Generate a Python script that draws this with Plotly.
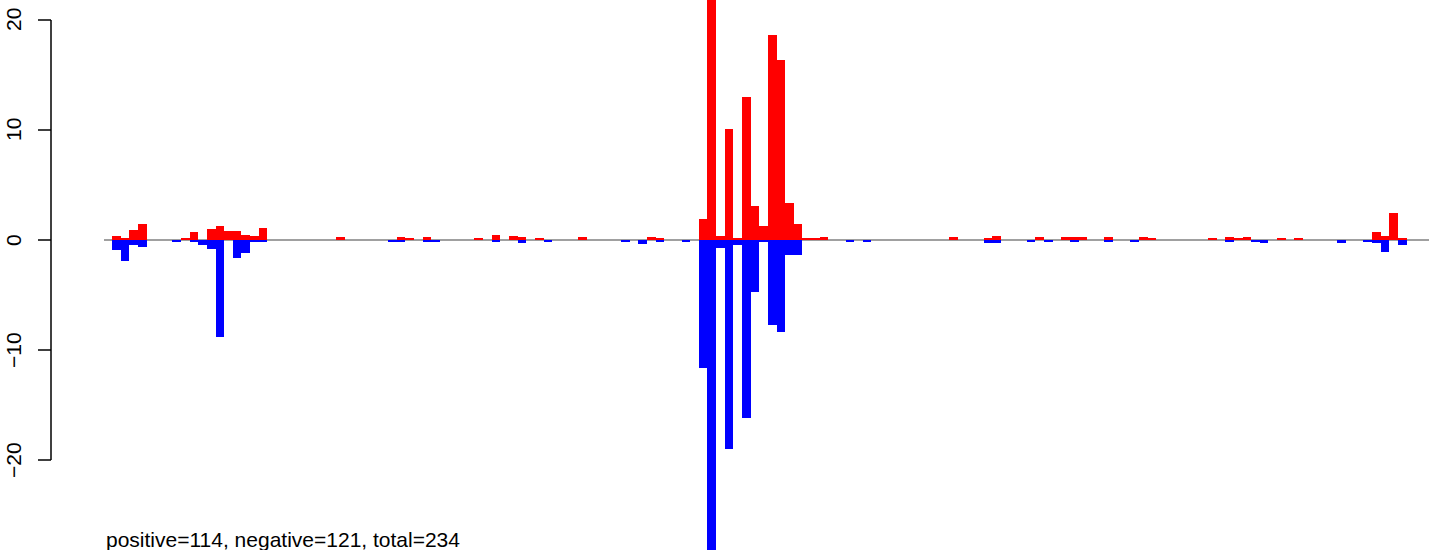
import plotly.graph_objects as go

# ---- data (bin index -> value) ----
n_bins = 150
pos_bin = [0, 1, 2, 3, 8, 9, 11, 12, 13, 14, 15, 16, 17,
           26, 33, 34, 36, 42, 44, 46, 47, 49, 54, 62, 63,
           68, 69, 70, 71, 72, 73, 74, 75, 76, 77, 78, 79, 80, 81, 82,
           97, 101, 102, 107, 110, 111, 112, 115, 119, 120, 127, 129, 130, 131,
           135, 137, 146, 147, 148, 149]
pos_val = [0.33, 0.21, 0.88, 1.42, 0.15, 0.70, 0.97, 1.24, 0.79, 0.79, 0.42, 0.33, 1.06,
           0.24, 0.25, 0.18, 0.25, 0.17, 0.42, 0.33, 0.24, 0.15, 0.25, 0.27, 0.18,
           1.90, 24.0, 0.35, 10.1, 0.20, 13.0, 3.05, 1.25, 18.6, 16.4, 3.35, 1.45, 0.15, 0.15, 0.24,
           0.25, 0.17, 0.35, 0.25, 0.25, 0.25, 0.25, 0.25, 0.24, 0.15, 0.17, 0.25, 0.17, 0.25,
           0.17, 0.17, 0.70, 0.33, 2.42, 0.15]

neg_bin = [0, 1, 2, 3, 7, 9, 10, 11, 12, 14, 15, 16, 17,
           32, 33, 36, 37, 44, 47, 50, 59, 61, 63, 66,
           68, 69, 70, 71, 72, 73, 74, 75, 76, 77, 78, 79,
           85, 87, 101, 102, 106, 108, 111, 115, 118, 129, 132, 133, 142, 145, 146, 147, 149]
neg_val = [-0.91, -1.90, -0.48, -0.64, -0.18, -0.18, -0.45, -0.82, -8.82, -1.64, -1.18, -0.18, -0.18,
           -0.20, -0.20, -0.20, -0.20, -0.20, -0.30, -0.20, -0.20, -0.40, -0.20, -0.20,
           -11.6, -30.0, -0.75, -19.0, -0.45, -16.2, -4.7, -0.18, -7.7, -8.4, -1.33, -1.33,
           -0.20, -0.20, -0.30, -0.30, -0.20, -0.20, -0.20, -0.20, -0.18, -0.20, -0.20, -0.28,
           -0.27, -0.18, -0.27, -1.09, -0.45]

tick_vals = [-20, -10, 0, 10, 20]
tick_text = ["\u221220", "\u221210", "0", "10", "20"]
caption = "positive=114, negative=121, total=234"

W, H = 1429, 550
FONT = "Liberation Sans, Arial, Helvetica, sans-serif"

fig = go.Figure()
fig.add_trace(go.Bar(x=pos_bin, y=pos_val, width=1.0, marker=dict(color="#FF0000", line=dict(width=0)),
                     showlegend=False, hoverinfo="x+y"))
fig.add_trace(go.Bar(x=neg_bin, y=neg_val, width=1.0, marker=dict(color="#0000FF", line=dict(width=0)),
                     showlegend=False, hoverinfo="x+y"))

# zero reference line
fig.add_shape(type="line", xref="paper", yref="y", x0=104 / W, x1=1, y0=0, y1=0,
              line=dict(color="#A0A0A0", width=2), layer="below")

# R-style y axis
ax_x = 51 / W
tick_x = 38 / W
fig.add_shape(type="line", xref="paper", yref="y", x0=ax_x, x1=ax_x,
              y0=min(tick_vals), y1=max(tick_vals), line=dict(color="black", width=1.5))
for v, t in zip(tick_vals, tick_text):
    fig.add_shape(type="line", xref="paper", yref="y", x0=tick_x, x1=ax_x, y0=v, y1=v,
                  line=dict(color="black", width=1.5))
    fig.add_annotation(x=13 / W, xref="paper", y=v, yref="y", text=t, textangle=-90,
                       showarrow=False, xanchor="center", yanchor="middle",
                       font=dict(family=FONT, size=21, color="black"))

fig.add_annotation(x=104 / W, xref="paper", y=1 - 539 / H, yref="paper", text=caption,
                   showarrow=False, xanchor="left", yanchor="middle",
                   font=dict(family=FONT, size=21, color="black"))

fig.update_layout(
    width=W, height=H, margin=dict(l=0, r=0, t=0, b=0),
    paper_bgcolor="white", plot_bgcolor="white",
    barmode="overlay", bargap=0,
    xaxis=dict(range=[-112 / 8.63 - 0.5, (W - 112) / 8.63 - 0.5], visible=False, fixedrange=True),
    yaxis=dict(range=[-(H - 240) / 11, 240 / 11], visible=False, fixedrange=True),
    font=dict(family=FONT),
)

fig.write_html("out.html", config={"displayModeBar": False},
               post_script="document.body.style.margin='0';document.body.style.overflow='hidden';")
